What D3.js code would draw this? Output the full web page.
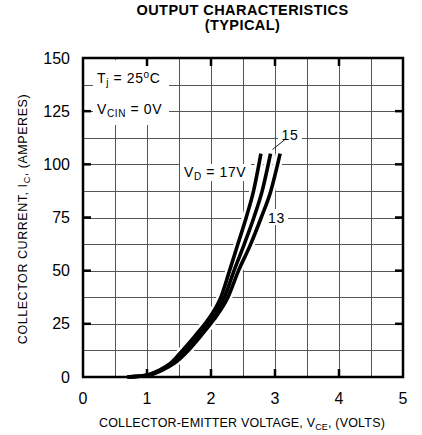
<!DOCTYPE html>
<html>
<head>
<meta charset="utf-8">
<script src="https://cdn.jsdelivr.net/npm/d3@7"></script>
<style>
  html, body { margin: 0; padding: 0; background: #fff; }
  svg { display: block; font-family: "Liberation Sans", Arial, Helvetica, sans-serif; }
</style>
</head>
<body>
<svg id="chart" width="422" height="435"></svg>
<script>
// Axis ticks
const xTicks = [0, 1, 2, 3, 4, 5];
const yTicks = [0, 25, 50, 75, 100, 125, 150];

// Collector current (A) sampled along each curve
const currents = [0, 0.8, 3, 6.5, 12.5, 19.5, 27, 37.5, 50, 62.5, 75, 87.5, 105];

// Collector-emitter voltage (V) at those currents, per gate drive voltage
const vce17 = [0.685, 0.98, 1.175, 1.37, 1.555, 1.755, 1.955, 2.155, 2.29, 2.42, 2.55, 2.665, 2.78];
const vce15 = [0.70, 1.00, 1.20, 1.40, 1.60, 1.80, 2.00, 2.21, 2.36, 2.52, 2.67, 2.80, 2.93];
const vce13 = [0.715, 1.02, 1.225, 1.43, 1.645, 1.845, 2.045, 2.265, 2.43, 2.62, 2.785, 2.935, 3.08];

const series = [
  { name: "17", v: vce17 },
  { name: "15", v: vce15 },
  { name: "13", v: vce13 }
];

const svg = d3.select("#chart");
const x = d3.scaleLinear().domain([0, 5]).range([83, 403]);
const y = d3.scaleLinear().domain([0, 150]).range([377, 58]);

// Fine grid: every 0.5 V and every 12.5 A
const grid = svg.append("g").attr("stroke", "#555").attr("stroke-width", 1);
grid.selectAll("line.v").data(d3.range(0.5, 5, 0.5)).join("line")
  .attr("x1", d => Math.round(x(d)) + 0.5).attr("x2", d => Math.round(x(d)) + 0.5)
  .attr("y1", y(150)).attr("y2", y(0));
grid.selectAll("line.h").data(d3.range(12.5, 150, 12.5)).join("line")
  .attr("y1", d => Math.round(y(d)) + 0.5).attr("y2", d => Math.round(y(d)) + 0.5)
  .attr("x1", x(0)).attr("x2", x(5));

// Label backgrounds
const bg = svg.append("g").attr("fill", "#fff");
bg.append("rect").attr("x", 93).attr("y", 60).attr("width", 76).attr("height", 65);
bg.append("rect").attr("x", 180).attr("y", 164).attr("width", 71).attr("height", 17);
bg.append("rect").attr("x", 278).attr("y", 127).attr("width", 24).attr("height", 14);
bg.append("rect").attr("x", 264).attr("y", 209).attr("width", 24).attr("height", 16);

// Curves
const line = d3.line()
  .x(d => x(d[0]))
  .y(d => y(d[1]))
  .curve(d3.curveMonotoneX);
const pts = s => s.v.map((v, k) => [v, currents[k]]);

svg.append("g").selectAll("path").data(series).join("path")
  .attr("d", s => line(pts(s)))
  .attr("fill", "none").attr("stroke", "#fff").attr("stroke-width", 8.5);
svg.append("g").selectAll("path").data(series).join("path")
  .attr("d", s => line(pts(s)))
  .attr("fill", "none").attr("stroke", "#000").attr("stroke-width", 3.6);

// Frame
svg.append("rect")
  .attr("x", x(0)).attr("y", y(150))
  .attr("width", x(5) - x(0)).attr("height", y(0) - y(150))
  .attr("fill", "none").attr("stroke", "#000").attr("stroke-width", 2.5);

// Major ticks on all four sides
const tk = svg.append("g").attr("stroke", "#000").attr("stroke-width", 2.5);
const tl = 8;
xTicks.slice(1, -1).forEach(t => {
  tk.append("line").attr("x1", x(t)).attr("x2", x(t)).attr("y1", y(0)).attr("y2", y(0) - tl);
  tk.append("line").attr("x1", x(t)).attr("x2", x(t)).attr("y1", y(150)).attr("y2", y(150) + tl);
});
yTicks.slice(1, -1).forEach(t => {
  tk.append("line").attr("y1", y(t)).attr("y2", y(t)).attr("x1", x(0)).attr("x2", x(0) + tl);
  tk.append("line").attr("y1", y(t)).attr("y2", y(t)).attr("x1", x(5)).attr("x2", x(5) - tl);
});

// Tick labels
svg.append("g").selectAll("text").data(xTicks).join("text")
  .attr("x", d => x(d)).attr("y", 404)
  .attr("text-anchor", "middle").attr("font-size", 16)
  .text(d => d);
svg.append("g").selectAll("text").data(yTicks).join("text")
  .attr("x", 70).attr("y", d => y(d) + 5.5)
  .attr("text-anchor", "end").attr("font-size", 16)
  .text(d => d);

// Title
svg.append("text").attr("x", 242.5).attr("y", 15)
  .attr("text-anchor", "middle").attr("font-size", 14.5).attr("font-weight", "bold")
  .attr("letter-spacing", 0.45)
  .text("OUTPUT CHARACTERISTICS");
svg.append("text").attr("x", 242.5).attr("y", 29.5)
  .attr("text-anchor", "middle").attr("font-size", 14.5).attr("font-weight", "bold")
  .attr("letter-spacing", 0.45)
  .text("(TYPICAL)");

// Axis titles
const xt = svg.append("text").attr("x", 242).attr("y", 426.5)
  .attr("text-anchor", "middle").attr("font-size", 12.5).attr("letter-spacing", 0.18);
xt.append("tspan").text("COLLECTOR-EMITTER VOLTAGE, V");
xt.append("tspan").attr("font-size", 9).attr("dy", 3).text("CE");
xt.append("tspan").attr("dy", -3).text(", (VOLTS)");

const yt = svg.append("text").attr("transform", "translate(26.5,219) rotate(-90)")
  .attr("text-anchor", "middle").attr("font-size", 12.5).attr("letter-spacing", 0.55);
yt.append("tspan").text("COLLECTOR CURRENT, I");
yt.append("tspan").attr("font-size", 9).attr("dy", 3).text("C");
yt.append("tspan").attr("dy", -3).text(", (AMPERES)");

// Condition labels
const lab = { size: 14, sub: 10, ls: 0.6 };
const t1 = svg.append("text").attr("x", 97).attr("y", 82.5)
  .attr("font-size", lab.size).attr("letter-spacing", lab.ls);
t1.append("tspan").text("T");
t1.append("tspan").attr("font-size", lab.sub).attr("dy", 3).text("j");
t1.append("tspan").attr("dy", -3).text(" = 25");
t1.append("tspan").attr("font-size", lab.sub).attr("dy", -5).text("o");
t1.append("tspan").attr("dy", 5).text("C");

const t2 = svg.append("text").attr("x", 97).attr("y", 114)
  .attr("font-size", lab.size).attr("letter-spacing", lab.ls);
t2.append("tspan").text("V");
t2.append("tspan").attr("font-size", lab.sub).attr("dy", 3).text("CIN");
t2.append("tspan").attr("dy", -3).text(" = 0V");

const t3 = svg.append("text").attr("x", 184).attr("y", 177)
  .attr("font-size", lab.size).attr("letter-spacing", lab.ls);
t3.append("tspan").text("V");
t3.append("tspan").attr("font-size", lab.sub).attr("dy", 3).text("D");
t3.append("tspan").attr("dy", -3).text(" = 17V");

svg.append("text").attr("x", 281.5).attr("y", 139.5)
  .attr("font-size", lab.size).attr("letter-spacing", lab.ls).text("15");
svg.append("text").attr("x", 268).attr("y", 223)
  .attr("font-size", lab.size).attr("letter-spacing", lab.ls).text("13");

// Leader from the 15 V curve to its label
svg.append("line").attr("x1", 272.5).attr("y1", 149.5).attr("x2", 285).attr("y2", 139.5)
  .attr("stroke", "#000").attr("stroke-width", 0.9);
</script>
</body>
</html>
